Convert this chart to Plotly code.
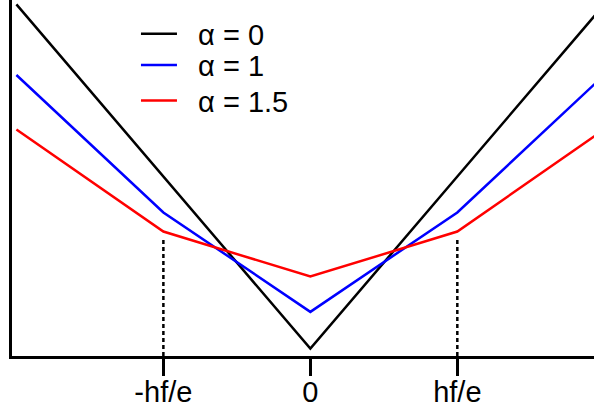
import plotly.graph_objects as go

# Bias in units of hf/e, conductance in arbitrary units
bias = [-2.0, -1.0, 0.0, 1.0, 2.0]
g_alpha0 = [2.39, 1.22, 0.05, 1.22, 2.39]
g_alpha1 = [1.91, 0.976, 0.30, 0.976, 1.91]
g_alpha15 = [1.54, 0.846, 0.54, 0.846, 1.54]

series_names = ["\u03b1 = 0", "\u03b1 = 1", "\u03b1 = 1.5"]
series_colors = ["#000000", "#0000ff", "#ff0000"]

tick_vals = [-1.0, 0.0, 1.0]
tick_text = ["-hf/e", "0", "hf/e"]

FONT = "Arial, Liberation Sans, sans-serif"
LEGEND_X = 0.213
LEGEND_ROWS_Y = [0.905, 0.817, 0.717]
LEGEND_PAD = "\u00a0\u00a0"

fig = go.Figure()

# Dotted guides from the axis up to the knees of the alpha = 1.5 curve
knee_gap = 0.045
for xv in (tick_vals[0], tick_vals[2]):
    knee = g_alpha15[bias.index(xv)]
    fig.add_trace(go.Scatter(
        x=[xv, xv], y=[0, knee - knee_gap], mode="lines",
        line=dict(color="black", width=2.5, dash="4px,3px"),
        showlegend=False, hoverinfo="skip",
    ))

legend_ids = ["legend", "legend2", "legend3"]
for name, ys, col, lid in zip(series_names, [g_alpha0, g_alpha1, g_alpha15],
                              series_colors, legend_ids):
    fig.add_trace(go.Scatter(
        x=bias, y=ys, mode="lines", name=LEGEND_PAD + name, legend=lid,
        line=dict(color=col, width=2.5),
    ))

legend_style = dict(
    x=LEGEND_X, xanchor="left", yanchor="middle",
    bgcolor="rgba(0,0,0,0)", font=dict(size=29),
    itemwidth=36,
)
layout_legends = {
    lid: dict(legend_style, y=yv) for lid, yv in zip(legend_ids, LEGEND_ROWS_Y)
}

fig.update_layout(
    width=594, height=409,
    margin=dict(l=12, r=0, t=0, b=53),
    paper_bgcolor="white", plot_bgcolor="white",
    font=dict(family=FONT, size=28, color="black"),
    xaxis=dict(
        range=[-2.03, 1.93], showgrid=False, zeroline=False,
        showline=True, linecolor="black", linewidth=2.5,
        ticks="outside", ticklen=17, tickwidth=2.5, tickcolor="black",
        tickvals=tick_vals, ticktext=tick_text,
        tickfont=dict(size=29), automargin=False,
        ticklabelstandoff=-9,
    ),
    yaxis=dict(
        range=[0, 2.42], showgrid=False, zeroline=False,
        showline=True, linecolor="black", linewidth=2.5,
        showticklabels=False, ticks="", automargin=False,
    ),
    **layout_legends,
)

fig.write_html("out.html")
